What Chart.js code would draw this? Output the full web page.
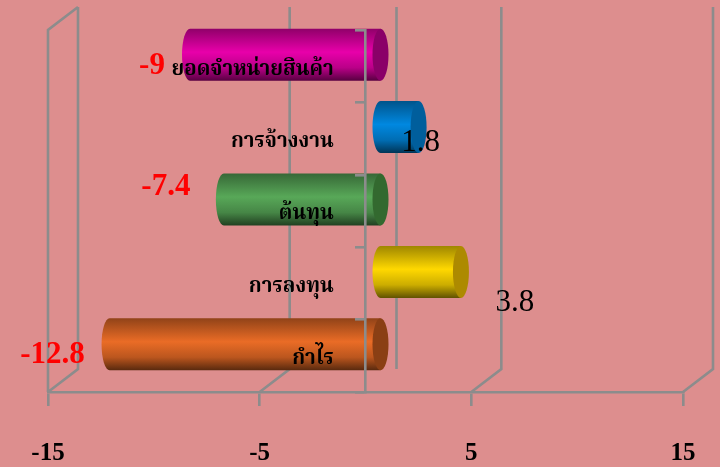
<!DOCTYPE html>
<html lang="th">
<head>
    <meta charset="UTF-8">
    <title>Bar chart</title>
    <script src="https://cdn.jsdelivr.net/npm/chart.js"></script>
    <style>
        html, body { margin: 0; padding: 0; background: #dd8e8e; }
        canvas { display: block; }
    </style>
</head>
<body>
    <canvas id="chart" width="720" height="467"></canvas>
    <script>
        const categories = ['ยอดจำหน่ายสินค้า', 'การจ้างงาน', 'ต้นทุน', 'การลงทุน', 'กำไร'];
        const values = [-9, 1.8, -7.4, 3.8, -12.8];
        const xTicks = [-15, -5, 5, 15];

        // body colour and end cap colour of each cylinder
        const barColors = ['#e800aa', '#0088e0', '#58a858', '#ffd800', '#ea6c26'];
        const capColors = ['#8a0068', '#005e9c', '#33692f', '#ad8a00', '#8a3f14'];

        // where each value label sits, relative to the end of its bar
        const labelOffsets = [[-23, 0], [17, 4], [-43, -24], [69, 19], [-42, -1]];

        const GRAY = '#8c8c8c';
        const DX = 30;   // depth of the back wall
        const DY = 23;

        const wallPlugin = {
            id: 'walls',
            beforeDatasetsDraw(chart) {
                const { ctx, chartArea, scales } = chart;
                const top = chartArea.top, bottom = chartArea.bottom;
                ctx.save();
                ctx.strokeStyle = GRAY;
                ctx.lineWidth = 2.6;
                ctx.beginPath();
                xTicks.forEach(v => {
                    const x = scales.x.getPixelForValue(v);
                    ctx.moveTo(x, bottom);
                    ctx.lineTo(x + DX, bottom - DY);
                    ctx.lineTo(x + DX, top - DY);
                });
                // left side wall
                const left = scales.x.getPixelForValue(xTicks[0]);
                ctx.moveTo(left + DX, top - DY);
                ctx.lineTo(left, top);
                ctx.lineTo(left, bottom);
                // back of the zero line
                const zero = scales.x.getPixelForValue(0);
                ctx.moveTo(zero + DX + 1, top - DY);
                ctx.lineTo(zero + DX + 1, bottom - DY);
                ctx.stroke();
                ctx.restore();
            }
        };

        const cylinderPlugin = {
            id: 'cylinders',
            afterDatasetsDraw(chart) {
                const { ctx } = chart;
                const rx = 8;
                const shift = 15;
                chart.getDatasetMeta(0).data.forEach((bar, i) => {
                    const a = Math.min(bar.x, bar.base) + shift;
                    const b = Math.max(bar.x, bar.base) + shift;
                    const cy = bar.y - 11.5;
                    const ry = bar.height / 2;

                    const grad = ctx.createLinearGradient(0, cy - ry, 0, cy + ry);
                    grad.addColorStop(0, shade(barColors[i], 0.62));
                    grad.addColorStop(0.45, barColors[i]);
                    grad.addColorStop(0.75, shade(barColors[i], 0.8));
                    grad.addColorStop(1, shade(barColors[i], 0.38));

                    ctx.save();
                    ctx.fillStyle = grad;
                    ctx.beginPath();
                    ctx.ellipse(a, cy, rx, ry, 0, Math.PI / 2, Math.PI * 1.5);
                    ctx.lineTo(b, cy - ry);
                    ctx.lineTo(b, cy + ry);
                    ctx.closePath();
                    ctx.fill();

                    ctx.fillStyle = capColors[i];
                    ctx.beginPath();
                    ctx.ellipse(b, cy, rx, ry, 0, 0, Math.PI * 2);
                    ctx.fill();
                    ctx.restore();
                });
            },
            afterDraw(chart) {
                const { ctx } = chart;
                ctx.save();
                ctx.textAlign = 'center';
                ctx.textBaseline = 'middle';
                chart.getDatasetMeta(0).data.forEach((bar, i) => {
                    const v = values[i];
                    ctx.fillStyle = v < 0 ? '#ff0000' : '#000000';
                    ctx.font = v < 0 ? 'bold 31px "Liberation Serif"' : '31px "Liberation Serif"';
                    ctx.fillText(String(v), bar.x + labelOffsets[i][0], bar.y + labelOffsets[i][1]);
                });
                ctx.restore();
            }
        };

        function shade(hex, f) {
            const n = parseInt(hex.slice(1), 16);
            const r = Math.round((n >> 16) * f);
            const g = Math.round(((n >> 8) & 255) * f);
            const b = Math.round((n & 255) * f);
            return `rgb(${r}, ${g}, ${b})`;
        }

        new Chart(document.getElementById('chart').getContext('2d'), {
            type: 'bar',
            data: {
                labels: categories,
                datasets: [{
                    data: values,
                    backgroundColor: 'transparent',
                    barThickness: 52
                }]
            },
            options: {
                indexAxis: 'y',
                responsive: false,
                animation: false,
                layout: { padding: { left: 48, top: 30, right: 37, bottom: 0 } },
                plugins: { legend: { display: false }, tooltip: { enabled: false } },
                scales: {
                    x: {
                        type: 'linear',
                        min: -15,
                        max: 15,
                        afterBuildTicks(scale) {
                            scale.ticks = xTicks.map(v => ({ value: v }));
                        },
                        afterFit(scale) {
                            // labels go far below the axis, keep that from eating the plot width
                            scale.height = 75;
                            scale.paddingLeft = 0;
                            scale.paddingRight = 0;
                        },
                        border: { color: GRAY, width: 2.6 },
                        grid: { drawOnChartArea: false, color: GRAY, lineWidth: 2.6, tickLength: 14 },
                        ticks: {
                            autoSkip: false,
                            maxRotation: 0,
                            padding: 33,
                            color: '#000000',
                            font: { family: '"Liberation Serif"', size: 25, weight: 'bold' }
                        }
                    },
                    y: {
                        axis: 'y',
                        position: { x: 0 },
                        border: { color: GRAY, width: 2.6, z: 1 },
                        grid: { drawOnChartArea: false, color: GRAY, lineWidth: 2.6, tickLength: 9, z: 1 },
                        ticks: { display: false }
                    },
                    // second category axis only carries the names, they sit left of the zero line
                    names: {
                        axis: 'y',
                        type: 'category',
                        labels: categories,
                        offset: true,
                        position: { x: -1.5 },
                        border: { display: false },
                        grid: { display: false },
                        ticks: {
                            z: 2,
                            labelOffset: 5,
                            color: '#000000',
                            font: { family: '"Noto Serif Thai", "Noto Sans Thai", "Liberation Serif"', size: 20.5, weight: 'bold' }
                        }
                    }
                }
            },
            plugins: [wallPlugin, cylinderPlugin]
        });
    </script>
</body>
</html>
